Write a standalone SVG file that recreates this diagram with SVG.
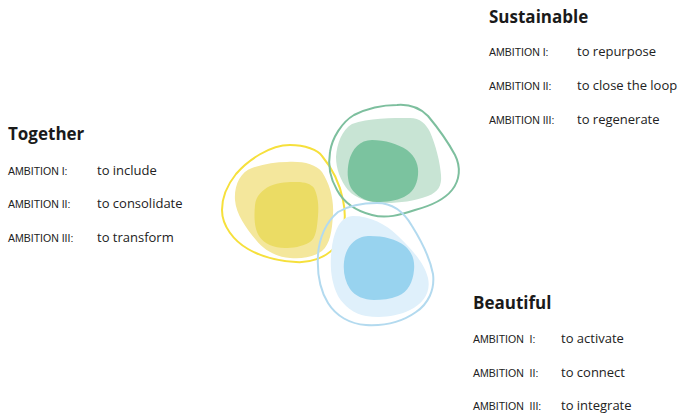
<svg xmlns="http://www.w3.org/2000/svg" width="680" height="416" viewBox="0 0 680 416">
<style>
.title{font-family:"Open Sans","Liberation Sans",sans-serif;font-weight:700;font-size:17px;fill:#1a1a1a}
.lab{font-family:"Liberation Sans",sans-serif;font-size:10.5px;fill:#222;white-space:pre}
.val{font-family:"Open Sans","Liberation Sans",sans-serif;font-size:13px;fill:#222}
</style>
<rect width="680" height="416" fill="#fff"/>
<g id="blob-yellow">
<path d="M290,145 C305,145 318,150 322,156 C332,168 340,185 343,200 C347,218 344,236 336,246 C326,258 310,263 296,262 C278,261 260,256 248,249 C234,241 222,226 222,210 C222,196 228,184 236,174 C248,160 270,145 290,145 Z" fill="none" stroke="#f6e03c" stroke-width="2"/>
<path d="M287,162 C302,161 316,164 322,172 C330,184 334,200 333,214 C332,232 330,244 322,251 C312,258 300,259 290,258 C276,257 264,250 256,240 C246,228 236,214 235,200 C234,186 240,172 252,168 C264,164 276,162 287,162 Z" fill="#f4e79c"/>
<path d="M297,182 C305,182 311,184 314,188 C318,196 319,206 318,216 C317,228 316,238 310,242 C302,247 292,248 285,248 C274,248 264,244 259,236 C254,228 254,216 255,205 C256,196 262,190 270,186 C279,182 289,182 297,182 Z" fill="#ebdc64"/>
</g>
<g id="blob-green">
<path d="M397,105 C410,104 420,108 428,116 C438,128 448,142 455,155 C461,167 460,180 452,190 C444,200 430,206 415,210 C400,215 386,219 372,215 C356,211 344,203 337,190 C330,178 328,164 330,152 C332,138 342,122 354,115 C368,108 384,105 397,105 Z" fill="none" stroke="#7dbf9e" stroke-width="2"/>
<path d="M410,118 C420,118 426,124 430,132 C436,146 440,162 441,175 C442,186 438,192 428,196 C414,201 400,203 386,203 C370,203 356,199 348,190 C340,180 336,168 336,157 C337,143 342,130 352,124 C368,118 392,118 410,118 Z" fill="#c8e4d4"/>
<path d="M372,140 C385,140 398,144 407,150 C416,157 419,166 418,175 C417,186 412,193 404,197 C396,201 386,202 377,202 C366,202 356,196 351,188 C347,180 347,170 349,161 C352,149 360,140 372,140 Z" fill="#7bc39f"/>
</g>
<g id="blob-blue">
<path d="M377,203 C392,203 404,212 412,226 C422,242 430,258 433,274 C435,290 428,304 416,312 C402,322 384,326 366,325 C350,324 336,316 328,303 C320,290 317,272 318,255 C319,238 326,222 338,212 C350,205 364,203 377,203 Z" fill="none" stroke="#b3daef" stroke-width="2"/>
<path d="M353,216 C370,216 386,224 398,236 C412,250 424,262 428,278 C431,292 424,303 410,310 C396,317 380,318 366,316 C354,314 344,306 338,296 C332,284 330,270 331,256 C332,240 336,225 344,219 C347,217 350,216 353,216 Z" fill="#dff0fb"/>
<path d="M370,236 C384,236 396,239 405,246 C412,252 415,260 414,270 C413,282 408,292 398,296 C390,299 382,300 374,300 C364,300 355,296 350,289 C345,281 343,272 344,262 C345,250 352,240 362,237 C365,236 367,236 370,236 Z" fill="#98d3ef"/>
</g>
<g id="together">
<text class="title" x="8" y="140">Together</text>
<text class="lab" x="8" y="175">AMBITION I:</text><text class="val" x="97" y="175">to include</text>
<text class="lab" x="8" y="208">AMBITION II:</text><text class="val" x="97" y="208">to consolidate</text>
<text class="lab" x="8" y="242">AMBITION III:</text><text class="val" x="97" y="242">to transform</text>
</g>
<g id="sustainable">
<text class="title" x="489" y="23">Sustainable</text>
<text class="lab" x="489" y="56">AMBITION I:</text><text class="val" x="577" y="56">to repurpose</text>
<text class="lab" x="489" y="90">AMBITION II:</text><text class="val" x="577" y="90">to close the loop</text>
<text class="lab" x="489" y="124">AMBITION III:</text><text class="val" x="577" y="124">to regenerate</text>
</g>
<g id="beautiful">
<text class="title" x="473" y="309">Beautiful</text>
<text class="lab" x="473" y="343">AMBITION  I:</text><text class="val" x="561" y="343">to activate</text>
<text class="lab" x="473" y="377">AMBITION  II:</text><text class="val" x="561" y="377">to connect</text>
<text class="lab" x="473" y="410">AMBITION  III:</text><text class="val" x="561" y="410">to integrate</text>
</g>
<g id="connectors"/>
</svg>
